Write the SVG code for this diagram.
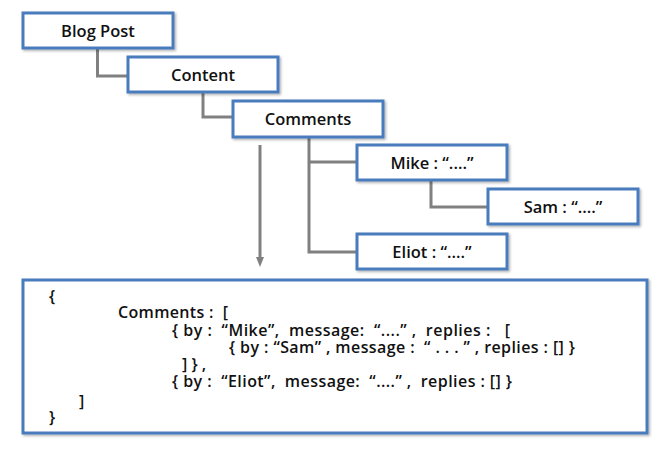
<svg xmlns="http://www.w3.org/2000/svg" width="664" height="453" viewBox="0 0 664 453">
<defs>
<style>
.box{fill:#fff;stroke:#4a7bbd;stroke-width:3}
.lbl{font-family:"Open Sans","Liberation Sans",Arial,sans-serif;font-weight:600;font-size:16.5px;fill:#111;text-anchor:middle}
.code{font-family:"Open Sans","Liberation Sans",Arial,sans-serif;font-weight:600;font-size:16px;fill:#111;white-space:pre}
.conn{fill:none;stroke:#808080;stroke-width:3}
</style>
<filter id="sh" x="-10%" y="-10%" width="130%" height="140%"><feDropShadow dx="1.5" dy="1.5" stdDeviation="1.2" flood-color="#000" flood-opacity="0.3"/></filter>
<marker id="ah" markerWidth="10" markerHeight="10" refX="5" refY="5" orient="auto" markerUnits="userSpaceOnUse"><path d="M0,1 L10,5 L0,9 Z" fill="#808080"/></marker>
</defs>
<rect width="664" height="453" fill="#fff"/>
<g id="connectors">
<path class="conn" d="M97.5,48 V76 H128"/>
<path class="conn" d="M203,92 V117 H233"/>
<path class="conn" d="M309,137 V252 H357 M309,162 H357"/>
<path class="conn" d="M431,180 V207 H488"/>
<path class="conn" d="M260,145 V262" marker-end="url(#ah)"/>
</g>
<g id="blogpost"><rect class="box" filter="url(#sh)" x="23" y="13" width="150" height="35"/><text class="lbl" x="98" y="37">Blog Post</text></g>
<g id="content"><rect class="box" filter="url(#sh)" x="128" y="57" width="150" height="35"/><text class="lbl" x="203" y="81">Content</text></g>
<g id="comments"><rect class="box" filter="url(#sh)" x="233" y="101" width="150" height="36"/><text class="lbl" x="308" y="125">Comments</text></g>
<g id="mike"><rect class="box" filter="url(#sh)" x="357" y="145" width="150" height="35"/><text class="lbl" x="432" y="169">Mike : “....”</text></g>
<g id="sam"><rect class="box" filter="url(#sh)" x="488" y="189" width="150" height="35"/><text class="lbl" x="563" y="213">Sam : “....”</text></g>
<g id="eliot"><rect class="box" filter="url(#sh)" x="357" y="234" width="150" height="35"/><text class="lbl" x="432" y="258">Eliot : “....”</text></g>
<g id="json">
<rect class="box" filter="url(#sh)" x="23" y="280" width="624" height="153"/>
<text class="code" x="49" y="302">{</text>
<text class="code" x="118" y="318" textLength="110" lengthAdjust="spacing">Comments :  [</text>
<text class="code" x="172" y="336" textLength="338" lengthAdjust="spacing">{ by :  “Mike”,  message:  “....” ,  replies :   [</text>
<text class="code" x="229" y="353" textLength="346" lengthAdjust="spacing">{ by : “Sam” , message :  “ . . . ” , replies : [] }</text>
<text class="code" x="182" y="370">] } ,</text>
<text class="code" x="172" y="387" textLength="340" lengthAdjust="spacing">{ by :  “Eliot”,  message:  “....” ,  replies : [] }</text>
<text class="code" x="79" y="407">]</text>
<text class="code" x="49" y="423">}</text>
</g>
</svg>
